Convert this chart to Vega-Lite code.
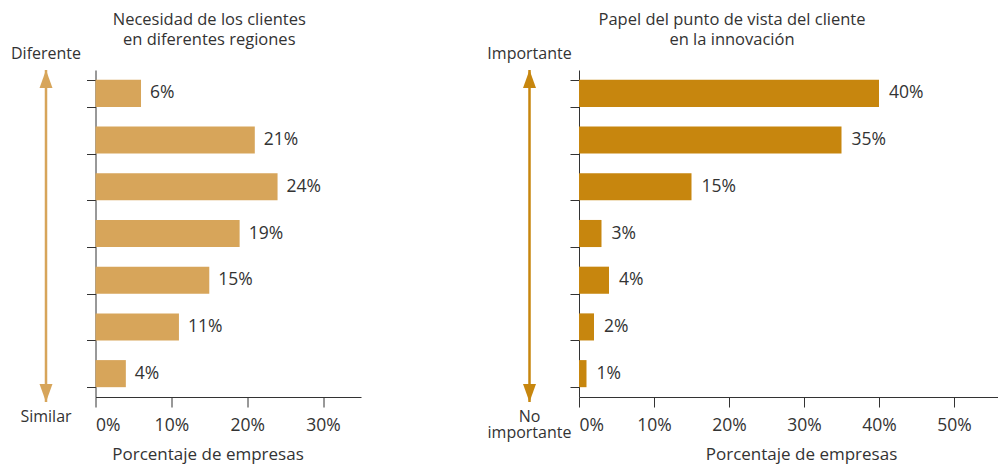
{
  "$schema": "https://vega.github.io/schema/vega-lite/v6.json",
  "padding": {"left": 0, "top": 11, "right": 0, "bottom": 4},
  "background": "white",
  "config": {
    "view": {"stroke": null},
    "font": "Open Sans",
    "axis": {
      "domainColor": "#333333",
      "tickColor": "#333333",
      "labelColor": "#333333",
      "titleColor": "#333333",
      "labelFont": "Open Sans",
      "titleFont": "Open Sans",
      "labelFontSize": 17.5,
      "titleFontSize": 17,
      "titleFontWeight": "normal",
      "tickSize": 10,
      "labelPadding": 9,
      "titlePadding": 13,
      "grid": false
    },
    "title": {"font": "Open Sans", "fontSize": 16.5, "fontWeight": "normal", "color": "#333333", "lineHeight": 20}
  },
  "datasets": {
    "necesidad": [
      {"nivel": 1, "valor": 0.06},
      {"nivel": 2, "valor": 0.21},
      {"nivel": 3, "valor": 0.24},
      {"nivel": 4, "valor": 0.19},
      {"nivel": 5, "valor": 0.15},
      {"nivel": 6, "valor": 0.11},
      {"nivel": 7, "valor": 0.04}
    ],
    "papel": [
      {"nivel": 1, "valor": 0.40},
      {"nivel": 2, "valor": 0.35},
      {"nivel": 3, "valor": 0.15},
      {"nivel": 4, "valor": 0.03},
      {"nivel": 5, "valor": 0.04},
      {"nivel": 6, "valor": 0.02},
      {"nivel": 7, "valor": 0.01}
    ],
    "flechaL": [
      {"pos": 1, "dir": "up", "etiqueta": "Diferente"},
      {"pos": 0, "dir": "down", "etiqueta": "Similar"}
    ],
    "flechaR": [
      {"pos": 1, "dir": "up", "etiqueta": "Importante"},
      {"pos": 0, "dir": "down", "etiqueta": ["No", "importante"]}
    ]
  },
  "bounds": "flush",
  "spacing": 3.5,
  "hconcat": [
    {
      "width": 92,
      "height": 332,
      "data": {"name": "flechaL"},
      "layer": [
        {
          "mark": {"type": "rule", "color": "#D7A55A", "strokeWidth": 2.5},
          "encoding": {
            "y": {"aggregate": "min", "field": "pos", "type": "quantitative", "scale": {"domain": [0, 1], "nice": false}, "axis": null},
            "y2": {"aggregate": "max", "field": "pos"}
          }
        },
        {
          "mark": {"type": "point", "filled": true, "opacity": 1, "color": "#D7A55A", "size": 1296, "strokeWidth": 0},
          "encoding": {
            "y": {"field": "pos", "type": "quantitative", "axis": null},
            "shape": {"field": "dir", "type": "nominal", "scale": {"domain": ["up", "down"], "range": ["M0,0L0.36,1L-0.36,1Z", "M0,0L0.36,-1L-0.36,-1Z"]}, "legend": null}
          }
        },
        {
          "transform": [{"filter": "datum.pos == 1"}],
          "mark": {"type": "text", "fontSize": 16, "color": "#333333", "baseline": "alphabetic", "dy": -11},
          "encoding": {
            "y": {"field": "pos", "type": "quantitative", "axis": null},
            "text": {"field": "etiqueta", "type": "nominal"}
          }
        },
        {
          "transform": [{"filter": "datum.pos == 0"}],
          "mark": {"type": "text", "fontSize": 16, "color": "#333333", "baseline": "alphabetic", "dy": 20, "lineHeight": 16},
          "encoding": {
            "y": {"field": "pos", "type": "quantitative", "axis": null},
            "text": {"field": "etiqueta", "type": "nominal"}
          }
        }
      ]
    },
    {
      "width": 265.5,
      "height": 327,
      "title": {"text": ["Necesidad de los clientes", "en diferentes regiones"], "anchor": "middle", "dx": -19, "offset": 22},
      "data": {"name": "necesidad"},
      "encoding": {
        "y": {
          "field": "nivel", "type": "ordinal",
          "scale": {"paddingInner": 0.42, "paddingOuter": 0.21},
          "axis": {"labels": false, "title": null, "tickBand": "extent", "tickSize": 9}
        },
        "x": {
          "field": "valor", "type": "quantitative",
          "scale": {"domain": [0, 0.35], "nice": false},
          "axis": {"values": [0, 0.1, 0.2, 0.3], "format": ".0%", "title": "Porcentaje de empresas", "titleX": 112}
        }
      },
      "layer": [
        {"mark": {"type": "bar", "color": "#D7A55A"}},
        {
          "mark": {"type": "text", "align": "left", "dx": 9, "fontSize": 17.5, "color": "#333333"},
          "encoding": {"text": {"field": "valor", "type": "quantitative", "format": ".0%"}}
        }
      ]
    },
    {
      "width": 114.5,
      "height": 327,
      "data": {"values": [{}]},
      "mark": {"type": "text", "text": ""}
    },
    {
      "width": 92,
      "height": 332,
      "data": {"name": "flechaR"},
      "layer": [
        {
          "mark": {"type": "rule", "color": "#C7860E", "strokeWidth": 2.5},
          "encoding": {
            "y": {"aggregate": "min", "field": "pos", "type": "quantitative", "scale": {"domain": [0, 1], "nice": false}, "axis": null},
            "y2": {"aggregate": "max", "field": "pos"}
          }
        },
        {
          "mark": {"type": "point", "filled": true, "opacity": 1, "color": "#C7860E", "size": 1296, "strokeWidth": 0},
          "encoding": {
            "y": {"field": "pos", "type": "quantitative", "axis": null},
            "shape": {"field": "dir", "type": "nominal", "scale": {"domain": ["up", "down"], "range": ["M0,0L0.36,1L-0.36,1Z", "M0,0L0.36,-1L-0.36,-1Z"]}, "legend": null}
          }
        },
        {
          "transform": [{"filter": "datum.pos == 1"}],
          "mark": {"type": "text", "fontSize": 16, "color": "#333333", "baseline": "alphabetic", "dy": -11},
          "encoding": {
            "y": {"field": "pos", "type": "quantitative", "axis": null},
            "text": {"field": "etiqueta", "type": "nominal"}
          }
        },
        {
          "transform": [{"filter": "datum.pos == 0"}],
          "mark": {"type": "text", "fontSize": 16, "color": "#333333", "baseline": "alphabetic", "dy": 20, "lineHeight": 16},
          "encoding": {
            "y": {"field": "pos", "type": "quantitative", "axis": null},
            "text": {"field": "etiqueta", "type": "nominal"}
          }
        }
      ]
    },
    {
      "width": 420,
      "height": 327,
      "title": {"text": ["Papel del punto de vista del cliente", "en la innovación"], "anchor": "middle", "dx": -57, "offset": 22},
      "data": {"name": "papel"},
      "encoding": {
        "y": {
          "field": "nivel", "type": "ordinal",
          "scale": {"paddingInner": 0.42, "paddingOuter": 0.21},
          "axis": {"labels": false, "title": null, "tickBand": "extent", "tickSize": 9}
        },
        "x": {
          "field": "valor", "type": "quantitative",
          "scale": {"domain": [0, 0.56], "nice": false},
          "axis": {"values": [0, 0.1, 0.2, 0.3, 0.4, 0.5], "format": ".0%", "title": "Porcentaje de empresas", "titleX": 222}
        }
      },
      "layer": [
        {"mark": {"type": "bar", "color": "#C7860E"}},
        {
          "mark": {"type": "text", "align": "left", "dx": 10, "fontSize": 17.5, "color": "#333333"},
          "encoding": {"text": {"field": "valor", "type": "quantitative", "format": ".0%"}}
        }
      ]
    }
  ]
}
